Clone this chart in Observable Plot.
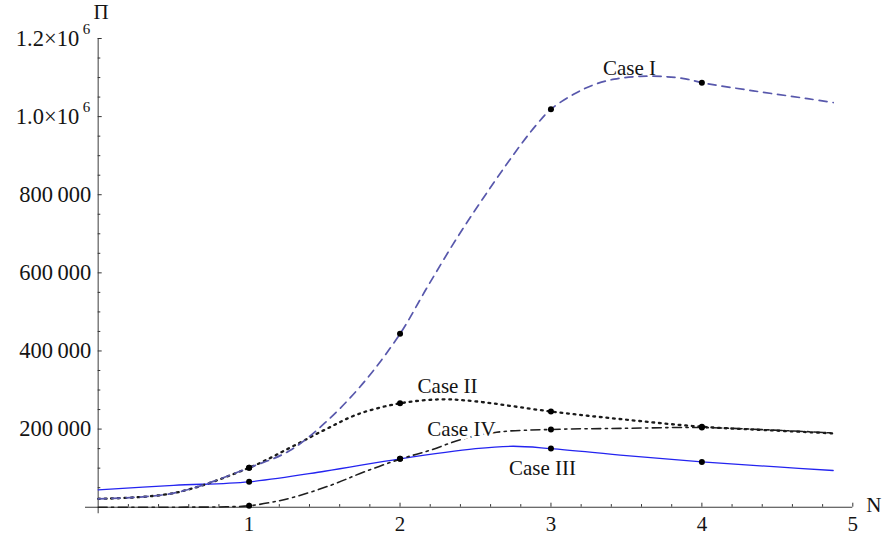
<!DOCTYPE html>
<html>
<head>
<meta charset="utf-8">
<script src="https://cdn.jsdelivr.net/npm/d3@7"></script>
<script src="https://cdn.jsdelivr.net/npm/@observablehq/plot@0.6"></script>
<style>
  html, body { margin: 0; padding: 0; background: #fff; }
  #chart { width: 887px; height: 537px; overflow: hidden; }
</style>
</head>
<body>
<div id="chart"></div>
<script>
// ---- data ----
const caseI_N  = [0, 0.5, 1, 1.27, 1.5, 1.75, 2, 2.18, 2.38, 2.6, 2.8, 2.91, 3, 3.15, 3.28, 3.42, 3.59, 3.77, 3.9, 4, 4.34, 4.7, 4.87];
const caseI_P  = [21500, 36000, 101000, 145000, 215000, 315000, 444000, 563000, 691000, 819000, 928000, 982000, 1019000, 1057000, 1081000, 1096000, 1103000, 1102000, 1096000, 1087000, 1066000, 1046000, 1036000];

const caseII_N = [0, 0.5, 1, 1.27, 1.5, 1.72, 2, 2.27, 2.5, 3, 3.5, 4, 4.5, 4.87];
const caseII_P = [21500, 36000, 101000, 152000, 198000, 238000, 266000, 276000, 271000, 245000, 224000, 206000, 196000, 189000];

const caseIII_N = [0, 0.5, 1, 1.5, 2, 2.5, 2.75, 3, 3.5, 4, 4.5, 4.87];
const caseIII_P = [44500, 56000, 65000, 92000, 124000, 150000, 156000, 150000, 132000, 116000, 103000, 94000];

const caseIV_N = [0, 0.5, 0.85, 1, 1.15, 1.28, 1.54, 1.76, 2, 2.2, 2.42, 2.64, 3, 3.5, 4, 4.5, 4.87];
const caseIV_P = [0, 0, 1000, 3600, 12800, 24000, 56000, 90000, 123000, 146000, 175000, 192000, 199000, 202000, 204000, 197000, 190000];

// marked points at integer N
const dotN       = [1, 2, 3, 4];
const dotCaseI   = [101000, 444000, 1019000, 1087000];
const dotCaseII  = [101000, 266000, 245000, 206000];
const dotCaseIII = [65000, 124000, 150000, 116000];
const dotCaseIV  = [3600, 124000, 199000, 204000];

// curve labels (anchor positions)
const labelText = ["Case I", "Case II", "Case III", "Case IV"];
const labelN    = [3.52, 2.315, 2.944, 2.407];
const labelP    = [1124000, 309000, 100400, 199000];

// axes
const xTicks      = [1, 2, 3, 4, 5];
const xTickLabels = ["1", "2", "3", "4", "5"];
const yTicks      = [200000, 400000, 600000, 800000, 1000000, 1200000];
const yTickLabels = ["200\u2009000", "400\u2009000", "600\u2009000", "800\u2009000", "1.0\u00d710", "1.2\u00d710"];
const yTickSup    = ["", "", "", "", "6", "6"];
const xAxisLabel  = "N";
const yAxisLabel  = "\u03a0";

// ---- build ----
const W = 887, H = 537;
const mL = 97.7, mR = 34.7, mT = 38, mB = 30.3;
const plotW = W - mL - mR, plotH = H - mT - mB;
const font = "'Liberation Serif', 'Times New Roman', serif";
const txt = "#141414";

const series = (name, ns, ps) => ns.map((n, i) => ({name, n, p: ps[i]}));
const cI = series("I", caseI_N, caseI_P);
const cII = series("II", caseII_N, caseII_P);
const cIII = series("III", caseIII_N, caseIII_P);
const cIV = series("IV", caseIV_N, caseIV_P);
const dots = [dotCaseI, dotCaseII, dotCaseIII, dotCaseIV].flatMap(arr => arr.map((p, i) => ({n: dotN[i], p})));
const labels = labelText.map((t, i) => ({t, n: labelN[i], p: labelP[i]}));

const yMinor = d3.range(50000, 1200001, 50000).filter(v => v % 200000 !== 0);
const xMinor = d3.range(1, 25).map(k => k / 5).filter(v => Math.abs(v - Math.round(v)) > 1e-9);

const yPlain = yTicks.map((v, i) => ({v, t: yTickLabels[i], s: yTickSup[i]})).filter(d => !d.s);
const ySci = yTicks.map((v, i) => ({v, t: yTickLabels[i], s: yTickSup[i]})).filter(d => d.s);

const chart = Plot.plot({
  width: W, height: H,
  marginLeft: mL, marginRight: mR, marginTop: mT, marginBottom: mB,
  x: {domain: [0, 5], axis: null},
  y: {domain: [0, 1200000], axis: null},
  style: {fontFamily: font, background: "#fff", overflow: "visible"},
  marks: [
    // axes lines
    Plot.ruleY([0], {x1: -0.084, x2: 5, stroke: "#3a3a3a", strokeWidth: 1.1}),
    Plot.ruleX([0], {y1: -17000, y2: 1200000, stroke: "#6a6a6a", strokeWidth: 1.3}),
    // y ticks (pointing right)
    Plot.tickY(yTicks, {y: d => d, insetRight: plotW - 4, stroke: "#333", strokeWidth: 1}),
    Plot.tickY(yMinor, {y: d => d, insetRight: plotW - 2.6, stroke: "#333", strokeWidth: 1}),
    // x ticks (pointing up)
    Plot.tickX(xTicks, {x: d => d, insetTop: plotH - 4, stroke: "#333", strokeWidth: 1}),
    Plot.tickX(xMinor, {x: d => d, insetTop: plotH - 2.6, stroke: "#333", strokeWidth: 1}),
    // tick labels
    Plot.text(xTicks, {x: d => d, y: () => 0, text: (d, i) => xTickLabels[i], lineAnchor: "top", dy: 9, fontSize: 21, fill: txt}),
    Plot.text(yPlain, {x: () => 0, y: "v", text: "t", textAnchor: "end", dx: -7, fontSize: 22.5, fill: txt}),
    Plot.text(ySci, {x: () => 0, y: "v", text: "t", textAnchor: "end", dx: -19, fontSize: 22.5, fill: txt}),
    Plot.text(ySci, {x: () => 0, y: "v", text: "s", textAnchor: "end", dx: -8, dy: -9.5, fontSize: 15, fill: txt}),
    // axis labels
    Plot.text([yAxisLabel], {x: () => 0, y: () => 1200000, text: d => d, dx: 3, dy: -26, fontSize: 21, fill: txt}),
    Plot.text([xAxisLabel], {x: () => 5, y: () => 0, text: d => d, textAnchor: "start", dx: 13.5, dy: -2, fontSize: 21, fill: txt}),
    // curves
    Plot.line(cIII, {x: "n", y: "p", curve: "catmull-rom", stroke: "#2424f0", strokeWidth: 1.3}),
    Plot.line(cIV, {x: "n", y: "p", curve: "catmull-rom", stroke: "#1e1e1e", strokeWidth: 1.6, strokeDasharray: "9,4.5,2.2,4.5"}),
    Plot.line(cII, {x: "n", y: "p", curve: "catmull-rom", stroke: "#1a1a1a", strokeWidth: 2.3, strokeDasharray: "1.8,4.8"}),
    Plot.line(cI, {x: "n", y: "p", curve: "catmull-rom", stroke: "#5858ac", strokeWidth: 1.7, strokeDasharray: "8,6"}),
    // marked points
    Plot.dot(dots, {x: "n", y: "p", r: 3, fill: "#000"}),
    // curve labels
    Plot.text(labels, {x: "n", y: "p", text: "t", fontSize: 21, fill: txt, stroke: (d) => d.t === "Case IV" ? "#fff" : "none", strokeWidth: 6})
  ]
});
document.getElementById("chart").appendChild(chart);
</script>
</body>
</html>
